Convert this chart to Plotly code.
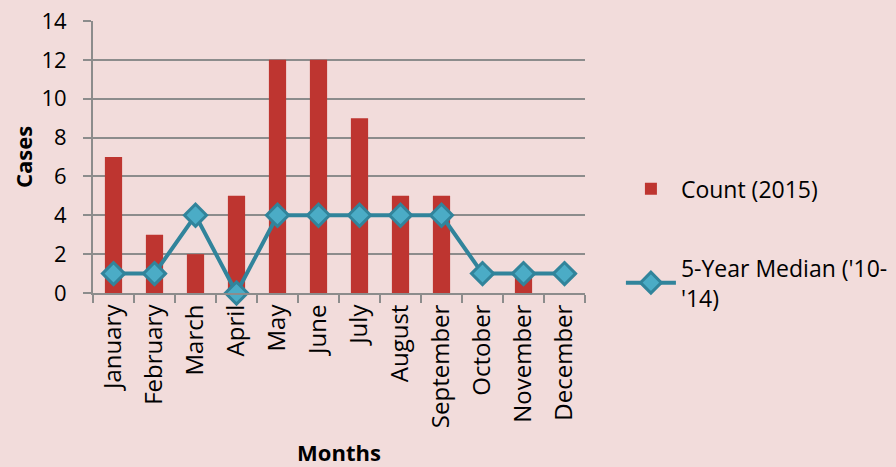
import plotly.graph_objects as go

months = ["January", "February", "March", "April", "May", "June", "July",
          "August", "September", "October", "November", "December"]
count_2015 = [7, 3, 2, 5, 12, 12, 9, 5, 5, 0, 1, 0]
median_5yr = [1, 1, 4, 0, 4, 4, 4, 4, 4, 1, 1, 1]
y_ticks = [0, 2, 4, 6, 8, 10, 12, 14]

FONT = "Open Sans"
BG = "#F2DCDB"

fig = go.Figure()
fig.add_trace(go.Bar(
    x=months, y=count_2015, name="Count (2015)",
    marker=dict(color="#BE3530", line=dict(width=0)),
    width=0.42, legendgroup="a",
))
fig.add_trace(go.Scatter(
    x=months, y=median_5yr, name="5-Year Median ('10-<br>'14)",
    mode="lines+markers",
    line=dict(color="#31849B", width=4),
    marker=dict(symbol="diamond", size=17, color="#4BACC6",
                line=dict(color="#31849B", width=3)),
    legendgroup="b", cliponaxis=False,
))

fig.update_layout(
    width=896, height=467,
    paper_bgcolor=BG, plot_bgcolor=BG,
    margin=dict(l=93, r=311, t=21, b=174, autoexpand=False),
    font=dict(family=FONT, size=22, color="#000000"),
    bargap=0.58,
    showlegend=True,
    legend=dict(x=1.073, y=0.462, xanchor="left", yanchor="top",
                traceorder="grouped", tracegroupgap=46,
                font=dict(size=23, family=FONT), bgcolor="rgba(0,0,0,0)",
                itemwidth=50),
)
fig.update_xaxes(
    automargin=False, range=[-0.5, 11.5],
    tickangle=-90, showgrid=False, showline=True, linecolor="#8C8C8C", linewidth=2,
    ticks="outside", ticklen=8, tickcolor="#8C8C8C", tickwidth=2,
    tickson="boundaries",
    title=dict(text="<b>Months</b>", font=dict(size=22, family=FONT), standoff=21),
    tickfont=dict(size=24, family=FONT),
)
fig.update_yaxes(
    automargin=False,
    range=[0, 14], tickvals=y_ticks, showgrid=True, gridcolor="#8C8C8C", gridwidth=2,
    showline=True, linecolor="#8C8C8C", linewidth=2,
    ticks="outside", ticklen=8, tickcolor="#8C8C8C", tickwidth=2,
    zeroline=False, ticklabelstandoff=12,
    title=dict(text="<b>Cases</b>", font=dict(size=22, family=FONT), standoff=3),
    tickfont=dict(size=22, family=FONT),
)

fig.write_html(
    "out.html",
    config={"displayModeBar": False},
    post_script="document.body.style.margin='0';document.body.style.background='" + BG + "';",
)
